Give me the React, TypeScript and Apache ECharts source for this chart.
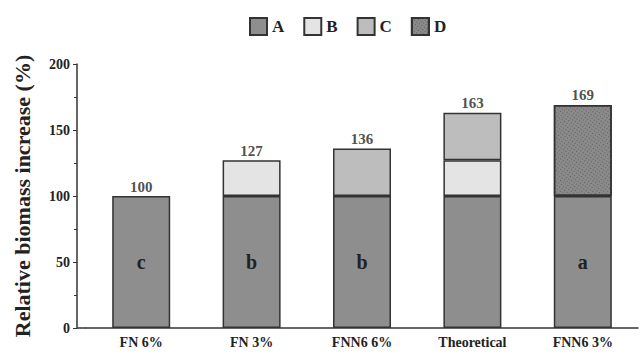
import React, { useEffect, useRef } from "react";
import * as echarts from "echarts";

const categories = ["FN 6%", "FN 3%", "FNN6 6%", "Theoretical", "FNN6 3%"];
const seriesA = [100, 100, 100, 100, 100];
const seriesB = [null, 27, null, 27, null];
const seriesC = [null, null, 36, 36, null];
const seriesD = [null, null, null, null, 69];
const letters = ["c", "b", "b", "", "a"];
const yTicks = { min: 0, max: 200, interval: 50 };

const FONT = "Liberation Serif";

export default function App() {
  const ref = useRef<HTMLDivElement>(null);
  useEffect(() => {
    if (!ref.current) return;
    const chart = echarts.init(ref.current, undefined, { renderer: "svg" });
    const totals = categories.map((_, i) =>
      [seriesA, seriesB, seriesC, seriesD].reduce((s, arr) => s + ((arr[i] as number) || 0), 0)
    );
    const border = { borderColor: "#333", borderWidth: 1.5 };
    chart.setOption({
      animation: false,
      textStyle: { fontFamily: FONT },
      legend: {
        top: 12,
        left: 244,
        icon: "rect",
        itemWidth: 17,
        itemHeight: 17,
        itemGap: 19,
        textStyle: { fontFamily: FONT, fontWeight: "bold", fontSize: 17, color: "#222" },
        data: ["A", "B", "C", "D"],
      },
      grid: { left: 86, right: 5, top: 64, bottom: 28 },
      xAxis: {
        type: "category",
        data: categories,
        axisLine: { lineStyle: { color: "#333", width: 1.5 } },
        axisTick: { show: false },
        axisLabel: { fontFamily: FONT, fontWeight: "bold", fontSize: 14, color: "#222", margin: 7 },
      },
      yAxis: {
        type: "value",
        min: yTicks.min,
        max: yTicks.max,
        interval: yTicks.interval,
        offset: 9,
        name: "Relative biomass increase (%)",
        nameLocation: "middle",
        nameGap: 44,
        nameTextStyle: { fontFamily: FONT, fontWeight: "bold", fontSize: 22, color: "#222" },
        axisLine: { show: true, lineStyle: { color: "#333", width: 1.5 } },
        axisTick: { show: true, length: 4, lineStyle: { color: "#333" } },
        minorTick: { show: true, splitNumber: 2, length: 3, lineStyle: { color: "#333" } },
        splitLine: { show: false },
        axisLabel: { fontFamily: FONT, fontWeight: "bold", fontSize: 14, color: "#222", margin: 7 },
      },
      graphic: [
        {
          type: "line",
          shape: { x1: 77, y1: 328, x2: 86, y2: 328 },
          style: { stroke: "#333", lineWidth: 1.5 },
        },
      ],
      series: [
        {
          name: "A",
          type: "bar",
          stack: "t",
          barWidth: 58,
          data: seriesA,
          itemStyle: { color: "#8e8e8e", ...border },
          label: {
            show: true,
            position: "inside",
            fontFamily: FONT,
            fontWeight: "bold",
            fontSize: 20,
            color: "#222",
            formatter: (p: any) => letters[p.dataIndex],
          },
        },
        {
          name: "B",
          type: "bar",
          stack: "t",
          data: seriesB,
          itemStyle: { color: "#e4e4e4", ...border },
        },
        {
          name: "C",
          type: "bar",
          stack: "t",
          data: seriesC,
          itemStyle: { color: "#bdbdbd", ...border },
        },
        {
          name: "D",
          type: "bar",
          stack: "t",
          data: seriesD,
          itemStyle: {
            color: "#8a8a8a",
            ...border,
            decal: {
              symbol: "rect",
              symbolSize: 1,
              dashArrayX: [1, 2],
              dashArrayY: [1, 2],
              rotation: 0.6,
              color: "rgba(40,40,40,0.45)",
            },
          },
        },
        {
          name: "total",
          type: "scatter",
          data: totals,
          symbolSize: 0,
          silent: true,
          label: {
            show: true,
            position: "top",
            distance: 2,
            fontFamily: FONT,
            fontWeight: "bold",
            fontSize: 15,
            color: "#222",
            formatter: (p: any) => String(p.value),
          },
        },
      ],
    });
    return () => chart.dispose();
  }, []);
  return (
    <div
      ref={ref}
      style={{ position: "fixed", left: 0, top: 0, width: 643, height: 356, background: "#fff" }}
    />
  );
}
